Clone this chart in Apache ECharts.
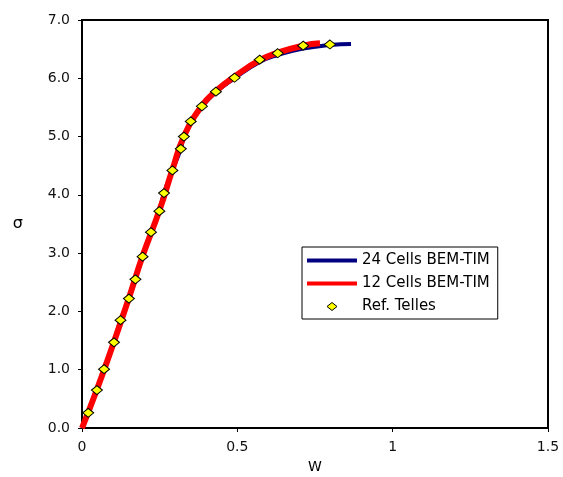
<!DOCTYPE html>
<html>
<head>
<meta charset="utf-8">
<script src="https://cdn.jsdelivr.net/npm/echarts@6/dist/echarts.min.js"></script>
<style>
  html, body { margin: 0; padding: 0; background: #fff; }
  #chart { width: 563px; height: 477px; }
</style>
</head>
<body>
<div id="chart"></div>
<script>
// values
const xTicks = [0, 0.5, 1, 1.5]
const yTicks = [0, 1, 2, 3, 4, 5, 6, 7]

// 24 Cells BEM-TIM
const blueW = [0, 0.02, 0.048, 0.071, 0.103, 0.124, 0.151, 0.172, 0.195, 0.222, 0.249, 0.264, 0.291, 0.318, 0.328, 0.35, 0.386, 0.431, 0.491, 0.572, 0.63, 0.712, 0.798, 0.866]
const blueS = [0, 0.26, 0.65, 1.01, 1.47, 1.85, 2.22, 2.55, 2.94, 3.36, 3.72, 4.03, 4.42, 4.79, 5.0, 5.24, 5.51, 5.76, 6.0, 6.28, 6.4, 6.51, 6.57, 6.59]

// 12 Cells BEM-TIM
const redW = [0, 0.048, 0.103, 0.151, 0.195, 0.249, 0.291, 0.328, 0.386, 0.431, 0.491, 0.572, 0.63, 0.712, 0.766]
const redS = [0, 0.66, 1.48, 2.23, 2.95, 3.73, 4.43, 5.0, 5.53, 5.78, 6.03, 6.31, 6.44, 6.56, 6.6]

// Ref. Telles
const refW = [0.02, 0.048, 0.071, 0.103, 0.124, 0.151, 0.172, 0.195, 0.222, 0.249, 0.264, 0.291, 0.318, 0.328, 0.35, 0.386, 0.431, 0.491, 0.572, 0.63, 0.712, 0.798]
const refS = [0.26, 0.65, 1.01, 1.47, 1.85, 2.22, 2.55, 2.94, 3.36, 3.72, 4.03, 4.42, 4.79, 5.0, 5.26, 5.52, 5.77, 6.01, 6.32, 6.43, 6.56, 6.58]

const pairs = (xs, ys) => xs.map((x, i) => [x, ys[i]])

const font = 'DejaVu Sans'
// path icons keep their aspect inside the legend box
const lineIcon = 'path://M0,0L50,0L50,4L0,4Z'
const diamondIcon = 'path://M5,0L10,4L5,8L0,4Z'

const option = {
  animation: false,
  backgroundColor: '#fff',
  grid: {
    left: 82,
    top: 20,
    width: 466,
    height: 408,
    outerBoundsMode: 'none',
    show: true,
    borderColor: '#000',
    borderWidth: 2
  },
  legend: {
    orient: 'vertical',
    left: 302,
    top: 247,
    backgroundColor: '#fff',
    borderColor: '#000',
    borderWidth: 1,
    borderRadius: 0,
    padding: [6, 8, 5, 5],
    itemWidth: 50,
    itemHeight: 8,
    itemGap: 8,
    symbolKeepAspect: true,
    textStyle: { fontFamily: font, fontSize: 15, color: '#000' },
    data: [
      { name: '24 Cells BEM-TIM', icon: lineIcon, itemStyle: { color: '#000080', borderWidth: 0 } },
      { name: '12 Cells BEM-TIM', icon: lineIcon, itemStyle: { color: '#ff0000', borderWidth: 0 } },
      { name: 'Ref. Telles', icon: diamondIcon, itemStyle: { color: '#ffff00', borderColor: '#000', borderWidth: 1 } }
    ]
  },
  xAxis: {
    type: 'value',
    min: xTicks[0],
    max: xTicks[xTicks.length - 1],
    interval: 0.5,
    name: 'W',
    nameLocation: 'middle',
    nameGap: 32,
    nameTextStyle: { fontFamily: font, fontSize: 14, color: '#000' },
    axisLine: { show: true, onZero: false, lineStyle: { color: '#000', width: 2 } },
    axisTick: { show: true, inside: false, length: 4, lineStyle: { color: '#000' } },
    axisLabel: { margin: 12, fontFamily: font, fontSize: 14, color: '#111' },
    splitLine: { show: false }
  },
  yAxis: {
    type: 'value',
    min: yTicks[0],
    max: yTicks[yTicks.length - 1],
    interval: 1,
    name: 'σ',
    nameLocation: 'middle',
    nameRotate: 0,
    nameGap: 59,
    nameTextStyle: { fontFamily: font, fontSize: 16, color: '#000' },
    axisLine: { show: true, onZero: false, lineStyle: { color: '#000', width: 2 } },
    axisTick: { show: true, inside: false, length: 4, lineStyle: { color: '#000' } },
    axisLabel: {
      margin: 12,
      fontFamily: font,
      fontSize: 14,
      color: '#111',
      formatter: v => v.toFixed(1)
    },
    splitLine: { show: false }
  },
  series: [
    {
      name: '24 Cells BEM-TIM',
      type: 'line',
      data: pairs(blueW, blueS),
      smooth: true,
      symbol: 'none',
      lineStyle: { color: '#000080', width: 4 },
      itemStyle: { color: '#000080' },
      z: 2
    },
    {
      name: '12 Cells BEM-TIM',
      type: 'line',
      data: pairs(redW, redS),
      smooth: true,
      symbol: 'none',
      lineStyle: { color: '#ff0000', width: 6 },
      itemStyle: { color: '#ff0000' },
      z: 3
    },
    {
      name: 'Ref. Telles',
      type: 'scatter',
      data: pairs(refW, refS),
      symbol: 'diamond',
      symbolSize: [11, 9],
      itemStyle: { color: '#ffff00', borderColor: '#000', borderWidth: 1, opacity: 1 },
      z: 4
    }
  ]
}

let chart = echarts.init(document.getElementById('chart'))
chart.setOption(option)
</script>
</body>
</html>
